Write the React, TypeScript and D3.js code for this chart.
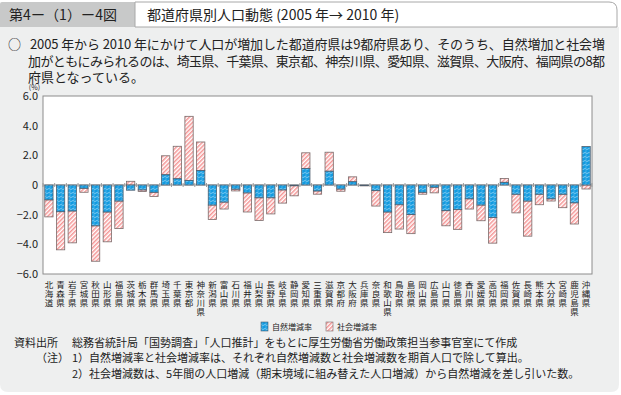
import * as d3 from 'd3'

const prefectures = [
  '北海道', '青森県', '岩手県', '宮城県', '秋田県', '山形県', '福島県', '茨城県', '栃木県', '群馬県',
  '埼玉県', '千葉県', '東京都', '神奈川県', '新潟県', '富山県', '石川県', '福井県', '山梨県', '長野県',
  '岐阜県', '静岡県', '愛知県', '三重県', '滋賀県', '京都府', '大阪府', '兵庫県', '奈良県', '和歌山県',
  '鳥取県', '島根県', '岡山県', '広島県', '山口県', '徳島県', '香川県', '愛媛県', '高知県', '福岡県',
  '佐賀県', '長崎県', '熊本県', '大分県', '宮崎県', '鹿児島県', '沖縄県',
]

// 自然増減率 (%)
const naturalRate = [
  -1.0, -1.8, -1.75, -0.22, -2.75, -1.82, -1.08, -0.35, -0.33, -0.49,
  0.69, 0.42, 0.31, 0.97, -1.35, -1.15, -0.28, -0.53, -0.86, -0.86,
  -0.33, -0.05, 1.11, -0.4, 0.93, -0.27, 0.22, -0.02, -0.38, -1.82,
  -1.33, -1.99, -0.49, -0.15, -1.73, -1.66, -0.93, -1.35, -2.19, 0.18,
  -0.62, -1.08, -0.62, -0.93, -0.62, -1.2, 2.59,
]

// 社会増減率 (%)
const socialRate = [
  -1.15, -2.57, -2.15, -0.27, -2.39, -2.01, -1.86, 0.25, -0.11, -0.28,
  1.28, 2.19, 4.32, 1.93, -0.97, -0.47, -0.12, -1.29, -1.53, -1.09,
  -0.89, -0.68, 1.06, -0.22, 1.28, -0.15, 0.33, -0.04, -1.04, -1.39,
  -1.64, -1.29, -0.13, -0.38, -1.02, -1.33, -0.69, -1.06, -1.73, 0.26,
  -1.26, -2.37, -0.71, -0.15, -0.91, -1.43, -0.27,
]

const yTicks = [6, 4, 2, 0, -2, -4, -6]

const W = 621
const H = 395
const plot = { left: 43, right: 592, top: 96, bottom: 274 }

const BLUE = '#139be0'
const PINK = '#f49494'
const FONT = '"Noto Sans CJK JP", "Noto Sans", sans-serif'

function fmt(v: number) {
  if (v === 0) return '0'
  return (v < 0 ? '−' : '') + Math.abs(v).toFixed(1)
}

export default function App() {
  const x = d3.scaleBand<string>().domain(prefectures).range([plot.left, plot.right]).paddingInner(0.29).paddingOuter(0.15)
  const y = d3.scaleLinear().domain([-6, 6]).range([plot.bottom, plot.top])
  const step = x.step()

  // natural rate from 0; social rate stacked on natural when same sign, else from 0
  const segs = prefectures.map((p, i) => {
    const n = naturalRate[i]
    const s = socialRate[i]
    const sBase = Math.sign(s) === Math.sign(n) ? n : 0
    return {
      p,
      nat: [0, n] as [number, number],
      soc: [sBase, sBase + s] as [number, number],
    }
  })

  const rectOf = (p: string, [a, b]: [number, number]) => {
    const y0 = y(Math.max(a, b))
    const y1 = y(Math.min(a, b))
    return { x: x(p)!, y: y0, width: x.bandwidth(), height: Math.max(0.6, y1 - y0) }
  }

  const boundaries = d3.range(prefectures.length + 1).map((i) => plot.left + i * step)

  return (
    <svg
      width={W}
      height={H}
      viewBox={`0 0 ${W} ${H}`}
      style={{ position: 'absolute', left: 0, top: 0, fontFamily: FONT }}
    >
      <defs>
        <pattern id="natPat" width="4" height="4" patternUnits="userSpaceOnUse">
          <rect width="4" height="4" fill={BLUE} />
          <path d="M0,1 Q1,0 2,1 T4,1" fill="none" stroke="#e8f6ff" strokeWidth="0.5" />
          <circle cx="2" cy="3" r="0.45" fill="#e8f6ff" />
        </pattern>
        <pattern id="socPat" width="3" height="3" patternUnits="userSpaceOnUse" patternTransform="rotate(45)">
          <rect width="3" height="3" fill="#fff" />
          <rect width="1.5" height="3" fill={PINK} />
        </pattern>
      </defs>

      <rect x={0} y={0} width={W} height={H} fill="#fff" />
      {/* body panel */}
      <path d="M0,27 H619 V384 Q619,392 611,392 H8 Q0,392 0,384 Z" fill="#eeefef" />
      {/* header tab + title box */}
      <path d="M0,4 Q0,2 2,2 H135 V27 H0 Z" fill="#c8c9c9" />
      <path d="M135,2 H609 Q617,2 617,10 V27 H135 Z" fill="#fff" stroke="#a8a8a8" strokeWidth={1} />
      <text x={9} y={20} fontSize={14} fill="#222" textLength={108} lengthAdjust="spacing">第4ー（1）ー4図</text>
      <text x={147} y={20} fontSize={14} fill="#222">都道府県別人口動態 (2005 年→ 2010 年)</text>

      <text x={8} y={49} fontSize={13} fill="#222">○</text>
      <text x={30} y={49} fontSize={13} fill="#222" textLength={575} lengthAdjust="spacing">
        2005 年から 2010 年にかけて人口が増加した都道府県は9都府県あり、そのうち、自然増加と社会増
      </text>
      <text x={28} y={66} fontSize={13} fill="#222" textLength={577} lengthAdjust="spacing">
        加がともにみられるのは、埼玉県、千葉県、東京都、神奈川県、愛知県、滋賀県、大阪府、福岡県の8都
      </text>
      <text x={28} y={82} fontSize={13} fill="#222">府県となっている。</text>

      {/* plot */}
      <rect x={plot.left} y={plot.top} width={plot.right - plot.left} height={plot.bottom - plot.top} fill="#fff" stroke="#8c8c8c" strokeWidth={1} />
      <text x={40} y={90} fontSize={7} textAnchor="end" fill="#222">(%)</text>
      {yTicks.map((t) => (
        <text key={t} x={38} y={y(t) + 4} fontSize={11} textAnchor="end" fill="#222">{fmt(t)}</text>
      ))}

      <line x1={plot.left} x2={plot.right} y1={y(0)} y2={y(0)} stroke="#9a9a9a" strokeWidth={1} />
      {boundaries.map((bx, i) => (
        <line key={i} x1={bx} x2={bx} y1={y(0) - 2} y2={y(0) + 2} stroke="#9a9a9a" strokeWidth={1} />
      ))}

      {segs.map((d) => {
        const rn = rectOf(d.p, d.nat)
        const rs = rectOf(d.p, d.soc)
        return (
          <g key={d.p}>
            <rect {...rs} fill="url(#socPat)" stroke="#7a6a6a" strokeWidth={0.8} />
            <rect {...rn} fill="url(#natPat)" stroke="#4e5e6e" strokeWidth={0.8} />
          </g>
        )
      })}

      {/* x labels, one character per line */}
      {prefectures.map((p) => {
        const cx = x(p)! + x.bandwidth() / 2
        return Array.from(p).map((ch, j) => (
          <text key={p + j} x={cx} y={288 + j * 9} fontSize={8.5} textAnchor="middle" fill="#222">{ch}</text>
        ))
      })}

      {/* legend */}
      <rect x={261} y={322} width={7} height={9} fill="url(#natPat)" stroke="#4e5e6e" strokeWidth={0.6} />
      <text x={272} y={330} fontSize={8} fill="#222">自然増減率</text>
      <rect x={326} y={322} width={7} height={9} fill="url(#socPat)" stroke="#7a6a6a" strokeWidth={0.6} />
      <text x={337} y={330} fontSize={8} fill="#222">社会増減率</text>

      {/* notes */}
      <text x={14} y={347} fontSize={11} fill="#222">資料出所</text>
      <text x={72} y={347} fontSize={11} fill="#222">総務省統計局「国勢調査」「人口推計」をもとに厚生労働省労働政策担当参事官室にて作成</text>
      <text x={36} y={362} fontSize={11} fill="#222">（注）</text>
      <text x={72} y={362} fontSize={11} fill="#222">1）自然増減率と社会増減率は、それぞれ自然増減数と社会増減数を期首人口で除して算出。</text>
      <text x={72} y={378} fontSize={11} fill="#222">2）社会増減数は、5年間の人口増減（期末境域に組み替えた人口増減）から自然増減を差し引いた数。</text>
    </svg>
  )
}
